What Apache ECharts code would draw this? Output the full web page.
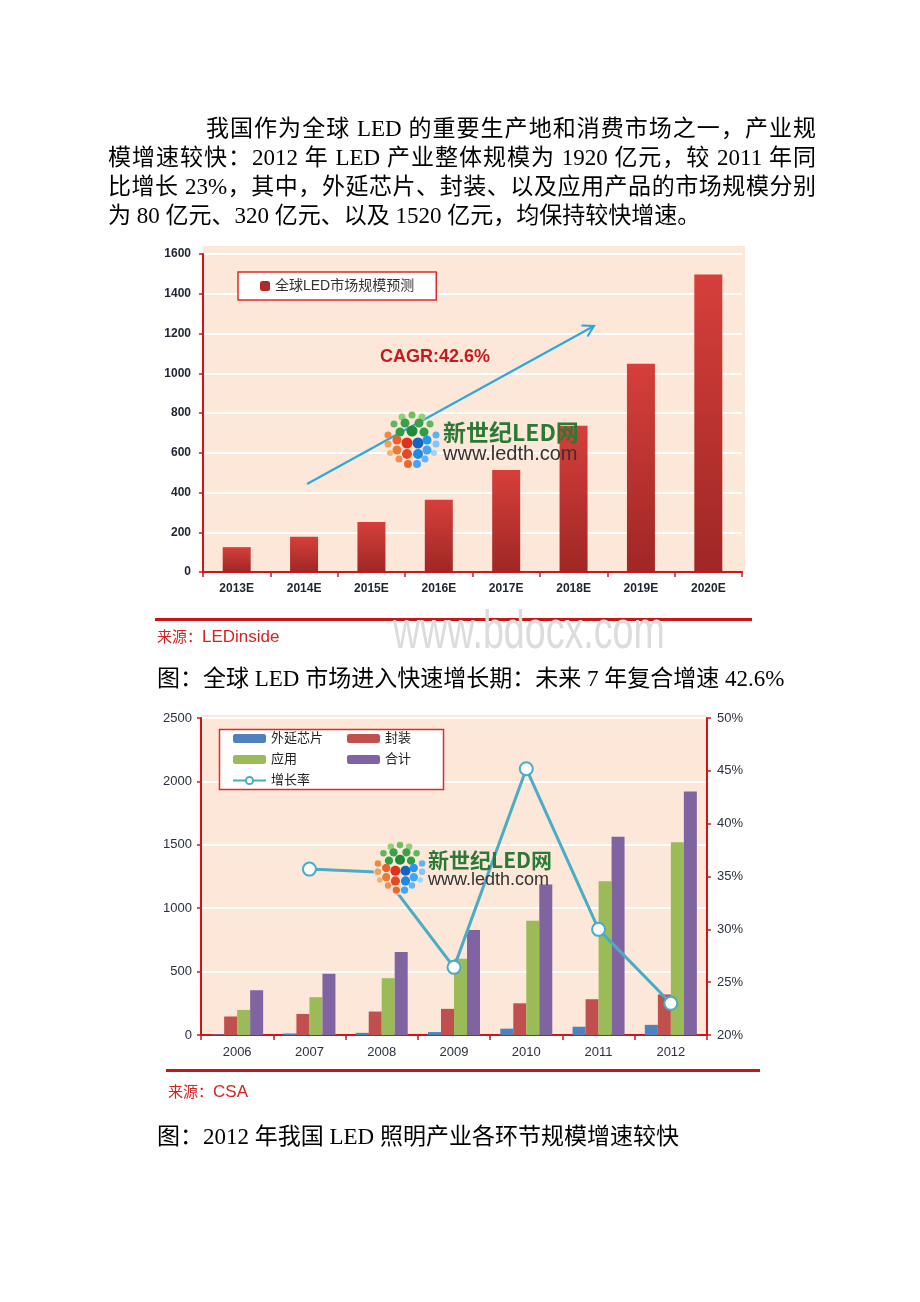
<!DOCTYPE html>
<html><head><meta charset="utf-8">
<script src="https://cdn.jsdelivr.net/npm/echarts@6/dist/echarts.min.js"></script>
<style>
html,body{margin:0;padding:0;background:#fff;}
#page{position:relative;width:920px;height:1302px;overflow:hidden;background:#fff;}
#chart{position:absolute;left:0;top:0;width:920px;height:1302px;}
.t{position:absolute;font-family:"Liberation Serif","Noto Sans CJK SC",serif;font-size:23px;line-height:29px;height:29px;color:#000;white-space:nowrap;}
.j{text-align:justify;text-align-last:justify;text-justify:inter-character;}
.sep{position:absolute;height:3px;background:#cc1414;}
.src{position:absolute;color:#d42323;font-family:"Liberation Sans","Noto Sans CJK SC",sans-serif;font-size:17px;line-height:20px;white-space:nowrap;}
.src .k{font-family:"Noto Sans CJK SC","Liberation Serif",serif;font-size:15px;}
#wm{position:absolute;left:393px;top:603px;font-family:"Liberation Sans",sans-serif;font-size:53px;line-height:53px;color:#dcdcdc;transform:scaleX(0.71);transform-origin:0 0;white-space:nowrap;}
</style></head>
<body>
<div id="page">
  <div id="chart"></div>
  <div class="t j" style="left:206px;top:114px;width:610px;">我国作为全球 LED 的重要生产地和消费市场之一，产业规</div>
  <div class="t j" style="left:108px;top:143px;width:708px;">模增速较快：2012 年 LED 产业整体规模为 1920 亿元，较 2011 年同</div>
  <div class="t j" style="left:108px;top:172px;width:708px;">比增长 23%，其中，外延芯片、封装、以及应用产品的市场规模分别</div>
  <div class="t" style="left:108px;top:201px;">为 80 亿元、320 亿元、以及 1520 亿元，均保持较快增速。</div>

  <div class="sep" style="left:155px;top:618px;width:597px;"></div>
  <div class="src" style="left:157px;top:626px;"><span class="k">来源：</span>LEDinside</div>
  <div id="wm">www.bdocx.com</div>
  <div class="t" style="left:157px;top:664px;">图：全球 LED 市场进入快速增长期：未来 7 年复合增速 42.6%</div>

  <div class="sep" style="left:166px;top:1069px;width:594px;"></div>
  <div class="src" style="left:168px;top:1081px;"><span class="k">来源：</span>CSA</div>
  <div class="t" style="left:157px;top:1122px;">图：2012 年我国 LED 照明产业各环节规模增速较快</div>
</div>
<script>
// ---- Chart 1 data ----
const years1 = ['2013E','2014E','2015E','2016E','2017E','2018E','2019E','2020E'];
const market = [125, 177, 252, 363, 513, 736, 1048, 1497];
const name1 = '全球LED市场规模预测';

// ---- Chart 2 data ----
const years2 = ['2006','2007','2008','2009','2010','2011','2012'];
const chip   = [5, 12, 17, 23, 50, 65, 80];
const pkg    = [146, 166, 185, 206, 250, 282, 320];
const app    = [198, 298, 448, 601, 902, 1213, 1520];
const total  = [353, 483, 654, 828, 1187, 1564, 1920];
const growth = [null, 35.7, 35.4, 26.4, 45.2, 30.0, 23.0];
const names2 = ['外延芯片','封装','应用','合计','增长率'];

const RED = '#d0141b';
const dots = [
  [-10,-23,3.5,'#8fd07a'],[0,-25,3.5,'#6cc060'],[10,-23,3.5,'#8fd07a'],
  [-18,-16,3.5,'#5cb85c'],[-7,-17,4.5,'#3aa04a'],[7,-17,4.5,'#3aa04a'],[18,-16,3.5,'#5cb85c'],
  [-12,-8,4.5,'#2e9e44'],[0,-9,5.5,'#1e8c3a'],[12,-8,4.5,'#2e9e44'],
  [-24,-5,3.5,'#f0883e'],[-24,4,3.5,'#f0a050'],[-22,13,3,'#f3b26a'],
  [-15,0,4.5,'#e8622a'],[-15,10,4.5,'#ea7a35'],[-13,19,3.5,'#f09050'],
  [-5,3,5.5,'#e0301e'],[-5,14,5,'#e04a25'],[-4,24,4,'#e86a30'],
  [6,3,5.5,'#1565c0'],[6,14,5,'#1e88e5'],[5,24,4,'#42a5f5'],
  [15,0,4.5,'#2196f3'],[15,10,4.5,'#42a5f5'],[13,19,3.5,'#64b5f6'],
  [24,-5,3.5,'#5ab4f0'],[24,4,3.5,'#81c7f5'],[22,13,3,'#a0d4f7']
];
function logo(cx, cy, s, tx, ty1, ty2, f1, f2, backdrop) {
  const els = [];
  if (backdrop) els.push({type:'circle', shape:{cx:cx, cy:cy, r:29*s}, style:{fill:backdrop}, z:10, silent:true});
  dots.forEach(d => els.push({type:'circle', shape:{cx:cx+d[0]*s, cy:cy+d[1]*s, r:d[2]*s}, style:{fill:d[3]}, z:11, silent:true}));
  els.push({type:'text', x:tx, y:ty1, z:11, silent:true, style:{text:'新世纪LED网', fill:'#2a7a36', font:'bold '+f1+'px "Noto Sans CJK SC"', textVerticalAlign:'middle'}});
  els.push({type:'text', x:tx, y:ty2, z:11, silent:true, style:{text:'www.ledth.com', fill:'#333', font:f2+'px "Liberation Sans"', textVerticalAlign:'middle'}});
  return els;
}
const plain = v => String(v);

const chart = echarts.init(document.getElementById('chart'), null, {renderer:'canvas'});
const axisLbl = {color:'#1f2430', fontFamily:'Liberation Sans'};
const option = {
  animation:false,
  textStyle:{fontFamily:'Liberation Sans, Noto Sans CJK SC'},
  grid:[
    {left:203, top:254, width:539, height:318},
    {left:201, top:718, width:506, height:317}
  ],
  xAxis:[
    {gridIndex:0, type:'category', data:years1,
      axisLine:{lineStyle:{color:RED, width:2}},
      axisTick:{show:true, length:5, lineStyle:{color:RED, width:1.5}},
      axisLabel:Object.assign({fontSize:12, fontWeight:'bold', margin:11}, axisLbl)},
    {gridIndex:1, type:'category', data:years2,
      axisLine:{lineStyle:{color:RED, width:2}},
      axisTick:{show:true, length:5, lineStyle:{color:RED, width:1.5}},
      axisLabel:{fontSize:13, color:'#2b3040', margin:11}}
  ],
  yAxis:[
    {gridIndex:0, type:'value', min:0, max:1600, interval:200,
      axisLine:{show:true, lineStyle:{color:RED, width:2}},
      axisTick:{show:true, length:4, lineStyle:{color:RED, width:1.5}},
      splitLine:{lineStyle:{color:'#ffffff', width:2}},
      axisLabel:Object.assign({fontSize:12, fontWeight:'bold', margin:12, formatter:plain}, axisLbl)},
    {gridIndex:1, type:'value', min:0, max:2500, interval:500,
      axisLine:{show:true, lineStyle:{color:RED, width:2}},
      axisTick:{show:true, length:4, lineStyle:{color:RED, width:1.5}},
      splitLine:{lineStyle:{color:'#ffffff', width:2}},
      axisLabel:{fontSize:13, color:'#2b3040', margin:9, formatter:plain}},
    {gridIndex:1, type:'value', position:'right', min:20, max:50, interval:5,
      axisLine:{show:true, lineStyle:{color:RED, width:2}},
      axisTick:{show:true, length:4, lineStyle:{color:RED, width:1.5}},
      splitLine:{show:false},
      axisLabel:{fontSize:13, color:'#2b3040', margin:10, formatter:'{value}%'}}
  ],
  legend:[
    {data:[{name:name1, itemStyle:{color:'#b02b28'}}], left:238, top:272, orient:'horizontal',
      padding:[7,22,7,22], itemWidth:10, itemHeight:10, borderColor:'#e02a2a', borderWidth:1.5,
      backgroundColor:'#fff', selectedMode:false, textStyle:{fontSize:14, color:'#333'}},
    {data:[names2[0], names2[2], names2[4]], left:232, top:732, orient:'vertical', padding:0,
      itemWidth:33, itemHeight:9, itemGap:8, selectedMode:false, textStyle:{fontSize:13, color:'#222', lineHeight:12}},
    {data:[names2[1], names2[3]], left:347, top:732, orient:'vertical', padding:0,
      itemWidth:33, itemHeight:9, itemGap:8, selectedMode:false, textStyle:{fontSize:13, color:'#222', lineHeight:12}}
  ],
  series:[
    {type:'bar', name:name1, xAxisIndex:0, yAxisIndex:0, data:market, barWidth:28,
      itemStyle:{color:new echarts.graphic.LinearGradient(0,0,0,1,[{offset:0,color:'#d63f3b'},{offset:1,color:'#9f2725'}])}},
    {type:'bar', name:names2[0], xAxisIndex:1, yAxisIndex:1, data:chip, barWidth:13, barGap:'0%', itemStyle:{color:'#4f81bd'}},
    {type:'bar', name:names2[1], xAxisIndex:1, yAxisIndex:1, data:pkg, barWidth:13, barGap:'0%', itemStyle:{color:'#c0504d'}},
    {type:'bar', name:names2[2], xAxisIndex:1, yAxisIndex:1, data:app, barWidth:13, barGap:'0%', itemStyle:{color:'#9bbb59'}},
    {type:'bar', name:names2[3], xAxisIndex:1, yAxisIndex:1, data:total, barWidth:13, barGap:'0%', itemStyle:{color:'#8064a2'}},
    {type:'line', name:names2[4], xAxisIndex:1, yAxisIndex:2, data:growth, z:5,
      symbol:'circle', symbolSize:13, showAllSymbol:true,
      lineStyle:{color:'#4bacc6', width:3},
      itemStyle:{color:'#ffffff', borderColor:'#4bacc6', borderWidth:2}}
  ],
  graphic:{elements:[
    {type:'rect', shape:{x:203, y:246, width:542, height:326}, style:{fill:'#fce7d8'}, z:-10, silent:true},
    {type:'rect', shape:{x:201, y:715, width:506, height:320}, style:{fill:'#fce7d8'}, z:-10, silent:true},
    {type:'rect', shape:{x:219.5, y:729.5, width:224, height:60}, style:{fill:'#fff', stroke:'#e02a2a', lineWidth:1.5}, z:3, silent:true},
    {type:'line', shape:{x1:307, y1:484, x2:594, y2:326}, style:{stroke:'#29a8e0', lineWidth:2}, z:5, silent:true},
    {type:'polyline', shape:{points:[[581.5,325.5],[594,326],[587.5,336.5]]}, style:{stroke:'#29a8e0', lineWidth:2, fill:null}, z:5, silent:true},
    {type:'text', x:380, y:357, z:5, silent:true, style:{text:'CAGR:42.6%', fill:'#c8191e', font:'bold 18px "Liberation Sans"', textVerticalAlign:'middle'}}
  ].concat(logo(412, 440, 1.0, 443, 432, 454, 23, 20, null))
   .concat(logo(400, 868, 0.92, 428, 860, 880, 21, 18, 'rgba(252,231,216,0.85)'))}
};
chart.setOption(option);
</script>
</body></html>
